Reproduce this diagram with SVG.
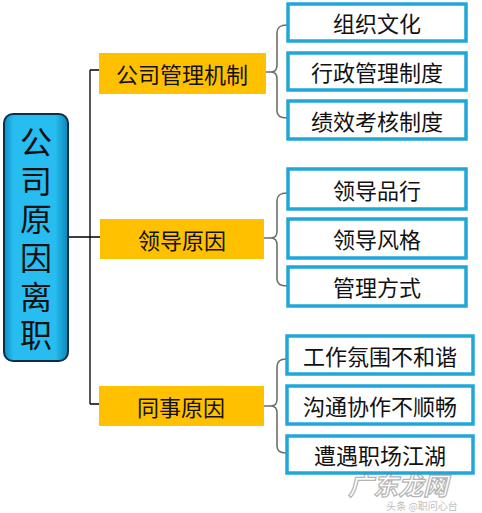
<svg xmlns="http://www.w3.org/2000/svg" width="482" height="513" viewBox="0 0 482 513">
<defs>
<linearGradient id="mainGrad" x1="0" y1="0" x2="1" y2="0">
<stop offset="0" stop-color="#0E8FC4"/>
<stop offset="0.15" stop-color="#27BDF0"/>
<stop offset="0.8" stop-color="#27BDF0"/>
<stop offset="1" stop-color="#0C86B8"/>
</linearGradient>
<style>
.cjk{font-family:"Noto Sans CJK SC","Noto Sans CJK TC",sans-serif;}
.main text{font-size:32px;fill:#111;}
.cat rect{fill:#FFC000;}
.cat text{font-size:22px;fill:#111;text-anchor:middle;dominant-baseline:central;}
.leaf rect{fill:#fff;stroke:#1FA7DA;stroke-width:3.5;}
.leaf text{font-size:22px;fill:#111;text-anchor:middle;dominant-baseline:central;}
.trunk{stroke:#000;stroke-width:1.3;fill:none;}
.brace{stroke:#6E6E6E;stroke-width:1.6;fill:none;}
</style>
</defs>

<g id="connectors">
<path class="trunk" d="M68,237 H90 M90,70 V404 M90,70 H99 M90,237 H100 M90,404 H99"/>
<path class="brace" d="M266,72 H271 M287,25 C280,25 277,27 277,33 L277,65 C277,69 275,72 271,72 C275,72 277,75 277,79 L277,111 C277,116 280,118 287,118"/>
<path class="brace" d="M264,238 H271 M287,193 C280,193 277,195 277,201 L277,231 C277,235 275,238 271,238 C275,238 277,241 277,245 L277,279 C277,284 280,286 287,286"/>
<path class="brace" d="M264,406 H271 M286,359 C280,359 277,361 277,367 L277,399 C277,403 275,406 271,406 C275,406 277,409 277,413 L277,446 C277,451 280,453 286,453"/>
</g>

<g id="main" class="main cjk">
<rect x="4" y="114" width="64" height="247" rx="9" fill="url(#mainGrad)" stroke="#0B2F4A" stroke-width="2"/>
<text x="36" y="126" writing-mode="vertical-rl" letter-spacing="6.6">公司原因离职</text>
</g>

<g id="cat1" class="cat cjk"><rect x="99" y="53" width="167" height="41"/><text x="182" y="73">公司管理机制</text></g>
<g id="cat2" class="cat cjk"><rect x="100" y="219" width="164" height="40"/><text x="182" y="239">领导原因</text></g>
<g id="cat3" class="cat cjk"><rect x="99" y="386" width="165" height="40"/><text x="181" y="406">同事原因</text></g>

<g id="leaf1" class="leaf cjk"><rect x="288" y="4" width="178" height="37"/><text x="377" y="22">组织文化</text></g>
<g id="leaf2" class="leaf cjk"><rect x="288" y="53" width="178" height="37"/><text x="377" y="71">行政管理制度</text></g>
<g id="leaf3" class="leaf cjk"><rect x="288" y="101" width="178" height="38"/><text x="377" y="120">绩效考核制度</text></g>

<g id="leaf4" class="leaf cjk"><rect x="288" y="169" width="178" height="40"/><text x="377" y="189">领导品行</text></g>
<g id="leaf5" class="leaf cjk"><rect x="288" y="219" width="178" height="39"/><text x="377" y="238">领导风格</text></g>
<g id="leaf6" class="leaf cjk"><rect x="288" y="267" width="178" height="39"/><text x="377" y="286">管理方式</text></g>

<g id="leaf7" class="leaf cjk"><rect x="287" y="336" width="186" height="38"/><text x="380" y="355">工作氛围不和谐</text></g>
<g id="leaf8" class="leaf cjk"><rect x="287" y="386" width="186" height="38"/><text x="380" y="405">沟通协作不顺畅</text></g>
<g id="leaf9" class="leaf cjk"><rect x="287" y="436" width="186" height="37"/><text x="380" y="454">遭遇职场江湖</text></g>

<g id="watermark" class="cjk" opacity="0.55">
<text x="398" y="495" font-size="25" font-weight="bold" fill="#fff" stroke="#777" stroke-width="1.2" text-anchor="middle" font-style="italic">广东龙网</text>
<text x="422" y="510" font-size="10" fill="#888" text-anchor="middle">头条 @职问心台</text>
</g>
</svg>
